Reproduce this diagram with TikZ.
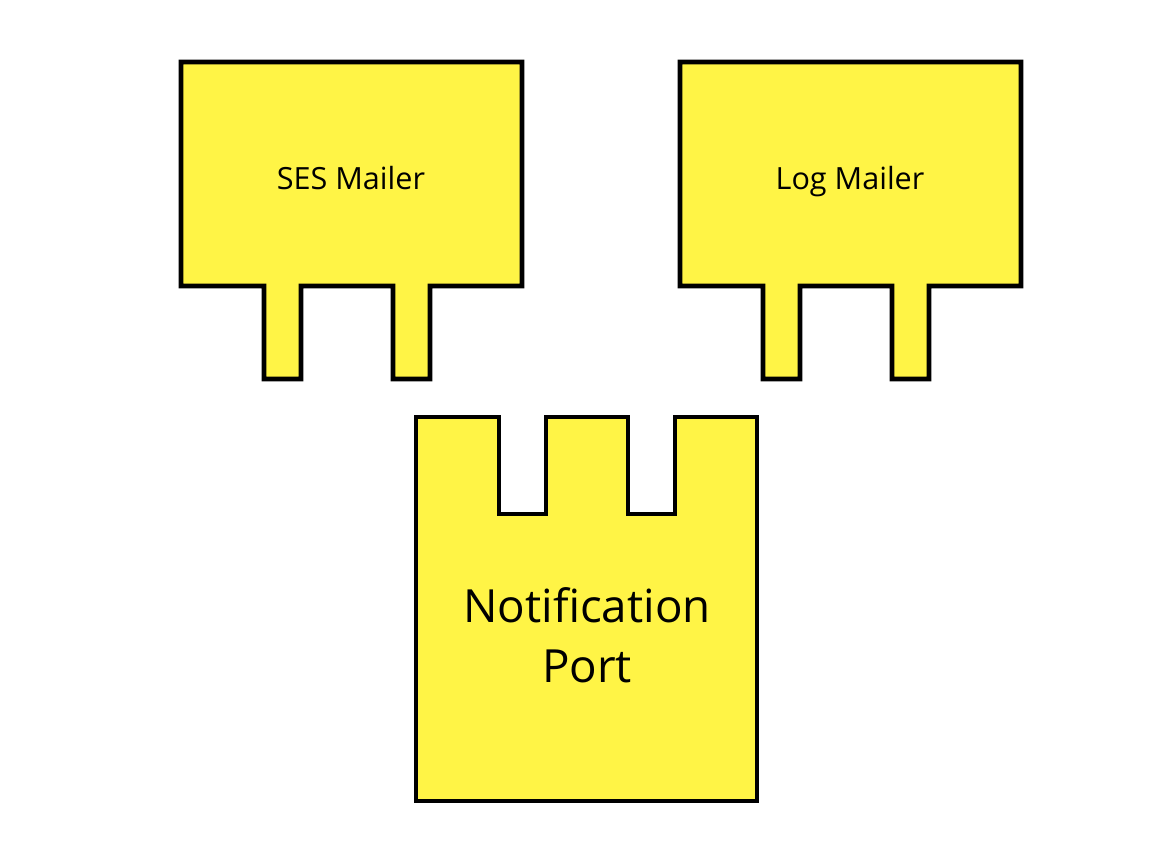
\documentclass[tikz,border=0pt]{standalone}
\usepackage{fontspec}
\setmainfont{Open Sans}
\usepackage{tikz}
\definecolor{portyellow}{RGB}{255,244,70}
\def\adapter(#1,#2){\draw[block] (#1,#2) -- ++(6.82,0) -- ++(0,-4.48) -- ++(-1.84,0) -- ++(0,-1.86) -- ++(-0.74,0) -- ++(0,1.86) -- ++(-1.84,0) -- ++(0,-1.86) -- ++(-0.74,0) -- ++(0,1.86) -- ++(-1.66,0) -- cycle;}

\begin{document}
\begin{tikzpicture}[block/.style={draw=black, line width=2.6pt, fill=portyellow, line join=miter}]
			\useasboundingbox (0,0) rectangle (23.16,17.26);
			%%%%% START %%%%%
			
			\adapter(3.62,16.02)
			\node[anchor=base, font=\fontsize{17.4}{21}\selectfont] (ses) at (7.02, 13.46) {SES Mailer};
			
			\adapter(13.60,16.02)
			\node[anchor=base, font=\fontsize{17.4}{21}\selectfont] (log) at (17.0, 13.46) {Log Mailer};
			
			\draw[block] (8.32, 8.92) -- (9.98, 8.92) -- (9.98, 6.98) -- (10.92, 6.98) -- (10.92, 8.92) -- (12.56, 8.92) -- (12.56, 6.98) -- (13.50, 6.98) -- (13.50, 8.92) -- (15.14, 8.92) -- (15.14, 1.24) -- (8.32, 1.24) -- cycle;
			\node[font=\fontsize{26}{34}\selectfont, align=center] (port) at (11.74, 4.56) {Notification\\Port};
			
			%%%%% END %%%%%
		\end{tikzpicture}
\end{document}
